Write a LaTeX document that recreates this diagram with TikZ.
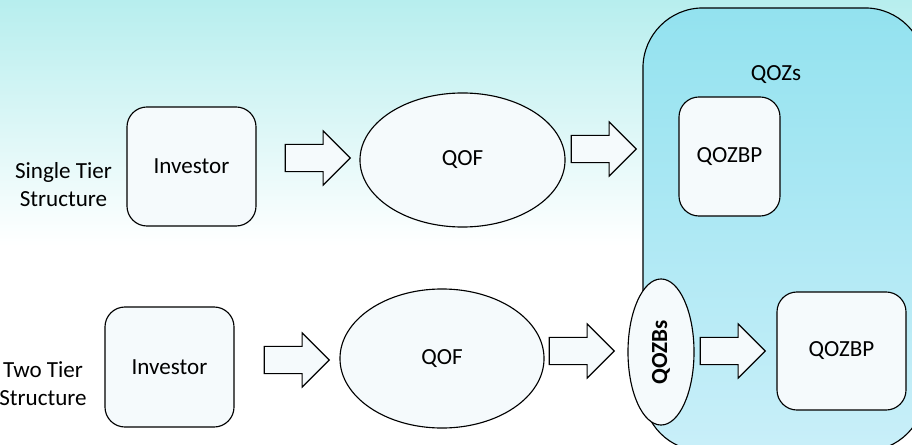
\documentclass[tikz,border=0pt]{standalone}
\usepackage{fontspec}
\setmainfont{Carlito}
\usetikzlibrary{shapes.geometric,shapes.arrows}

\definecolor{bgtop}{HTML}{B7EEEE}
\definecolor{zonetop}{HTML}{93E2EF}
\definecolor{zonemid}{HTML}{C4ECF9}
\definecolor{zonebot}{HTML}{C9EFF9}
\definecolor{nodefill}{HTML}{F5FAFC}

\begin{document}
\begin{tikzpicture}[x=0.025cm, y=-0.025cm,
  font=\fontsize{16.4pt}{19.9pt}\selectfont,
  outline/.style={draw=black, line width=0.8pt},
  boxnode/.style={outline, fill=nodefill, rectangle, rounded corners=0.5cm,
    inner sep=0pt, align=center},
  fundnode/.style={outline, fill=nodefill, ellipse, inner sep=0pt, align=center},
  blockarrow/.style={outline, fill=nodefill, single arrow, anchor=tip,
    inner xsep=0pt, inner ysep=0.325cm, minimum height=1.625cm,
    single arrow head extend=0.3375cm},
  caption/.style={align=center, inner sep=0pt}]

% canvas and background wash
\useasboundingbox (0,0) rectangle (912,445);
\clip (0,0) rectangle (912,445);
\fill[white] (0,0) rectangle (912,445);
\shade[top color=bgtop, bottom color=white] (0,0) rectangle (912,246);

% opportunity zone container
\node[outline, rectangle, rounded corners=1.5cm, top color=zonetop,
  middle color=zonemid, bottom color=zonebot,
  minimum width=7.05cm, minimum height=11.075cm] (qozs) at (784,229.5) {};
\node[caption] (qozslabel) at (776,75) {QOZs};

% single tier structure
\node[caption] (single) at (63.5,185) {Single Tier\\Structure};
\node[boxnode, minimum width=3.225cm, minimum height=2.975cm] (inv1) at (191.5,166.5) {Investor};
\node[fundnode, minimum width=5.125cm, minimum height=3.35cm] (qof1) at (462.5,160) {QOF};
\node[boxnode, minimum width=2.525cm, minimum height=2.975cm] (bp1) at (729.5,156.5) {QOZBP};
\node[blockarrow] (a1) at (351,158) {};
\node[blockarrow] (a2) at (637,149) {};

% two tier structure
\node[caption] (two) at (43,384) {Two Tier\\Structure};
\node[boxnode, minimum width=3.225cm, minimum height=3.0cm] (inv2) at (169.5,367) {Investor};
\node[fundnode, minimum width=5.1cm, minimum height=3.475cm] (qof2) at (442,358.5) {QOF};
\node[fundnode, rotate=90, minimum width=3.65cm, minimum height=1.65cm,
  font=\fontsize{16.4pt}{19.9pt}\selectfont\bfseries] (qozbs) at (661,352) {QOZBs};
\node[boxnode, minimum width=3.225cm, minimum height=2.95cm] (bp2) at (841.5,351) {QOZBP};
\node[blockarrow] (a3) at (330,360) {};
\node[blockarrow] (a4) at (615,351) {};
\node[blockarrow] (a5) at (766,351) {};
\end{tikzpicture}
\end{document}
